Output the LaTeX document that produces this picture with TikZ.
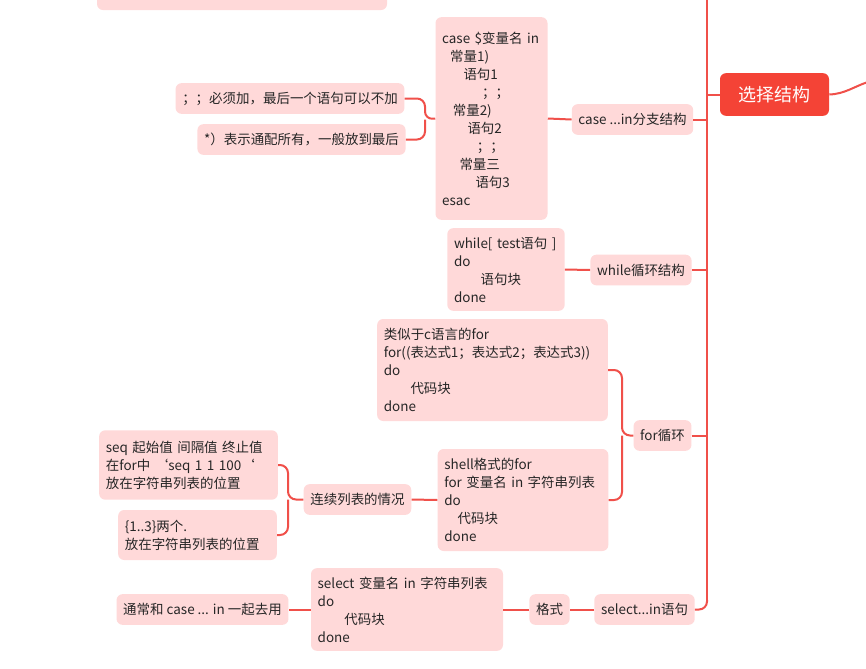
\documentclass[tikz,border=0pt]{standalone}
\usepackage{fontspec}
\setmainfont{Noto Sans CJK SC}
\begin{document}
\begin{tikzpicture}[x=0.75pt,y=-0.75pt,
  bx/.style={fill=boxc,rounded corners=4.5pt,inner xsep=5pt,inner ysep=0pt,align=left,font=\fontsize{10.1}{13.5}\selectfont,text=black!85},
  ln/.style={draw=linec,line width=1.5pt,rounded corners=6pt}]
\definecolor{boxc}{HTML}{FFD9D9}
\definecolor{linec}{HTML}{F0504A}
\definecolor{mainc}{HTML}{F44336}
\useasboundingbox (0,0) rectangle (866,668);
\fill[white] (0,0) rectangle (866,668);
% trunk
\draw[ln] (707,-5) -- (707,600) coordinate (tb);
% top partial box
\node[bx,minimum width=217.5pt,minimum height=15pt] (top) at (242,0) {};
% main
\node[fill=mainc,rounded corners=4.5pt,text=white,minimum width=81.75pt,minimum height=32pt,font=\fontsize{13.5}{16}\selectfont] (main) at (774.5,94.5) {选择结构};
\draw[ln] (707,94.5) -- (main.west);
\draw[line width=1.5pt,draw=linec] (main.east) .. controls (845,94) and (855,86) .. (868,82);
% case
\node[bx,minimum width=81.75pt,minimum height=152pt,text width=74pt] (casebox) at (491.5,118.5) {case \$变量名 in\\\hspace*{6pt}常量1)\\\hspace*{16pt}语句1\\\hspace*{30pt}；；\\\hspace*{8pt}常量2)\\\hspace*{19pt}语句2\\\hspace*{26pt}；；\\\hspace*{13pt}常量三\\\hspace*{25pt}语句3\\esac};
\node[bx,minimum height=23pt] (caselab) at (632.5,119.5) {case ...in分支结构};
\node[bx,minimum height=23pt] (n1) at (290,98.5) {；；必须加，最后一个语句可以不加};
\node[bx,minimum height=23pt] (n2) at (301.5,139.5) {*）表示通配所有，一般放到最后};
\draw[ln] (caselab.east) -- (707,119.5);
\draw[ln] (caselab.west) -- (casebox.east);
\draw[ln] (casebox.west) -- (425,119.5) |- (n1.east);
\draw[ln] (425,119.5) |- (n2.east);
% while
\node[bx,minimum width=85.5pt,minimum height=62pt,text width=78pt] (wbox) at (506,269.5) {while[ test语句 ]\\do\\\hspace*{20pt}语句块\\done};
\node[bx,minimum height=23pt] (wlab) at (641,270) {while循环结构};
\draw[ln] (wlab.east) -- (707,270);
\draw[ln] (wlab.west) -- (wbox.east);
% for
\node[bx,minimum height=23pt] (flab) at (662.5,435.5) {for循环};
\draw[ln] (flab.east) -- (707,435.5);
\node[bx,minimum width=170pt,minimum height=76.5pt,text width=163pt] (f1) at (492.5,370) {类似于c语言的for\\for((表达式1；表达式2；表达式3))\\do\\\hspace*{20pt}代码块\\done};
\node[bx,minimum width=124.5pt,minimum height=76.5pt,text width=118pt] (f2) at (523,500) {shell格式的for\\for 变量名 in 字符串列表\\do\\\hspace*{10pt}代码块\\done};
\draw[ln] (flab.west) -- (622,435.5) |- (f1.east);
\draw[ln] (622,435.5) |- (f2.east);
\node[bx,minimum height=23pt] (lx) at (357.5,499.5) {连续列表的情况};
\draw[ln] (f2.west) -- (lx.east);
\node[bx,minimum width=131pt,minimum height=52pt,text width=124pt] (s1) at (188.5,465) {seq 起始值 间隔值 终止值\\在for中 `seq 1 1 100`\\放在字符串列表的位置};
\node[bx,minimum width=116pt,minimum height=37.5pt,text width=109pt] (s2) at (197.5,535) {\{1..3\}两个.\\放在字符串列表的位置};
\draw[ln] (lx.west) -- (288,499.5) |- (s1.east);
\draw[ln] (288,499.5) |- (s2.east);
% select
\node[bx,minimum height=23pt] (slab) at (644.5,609.5) {select...in语句};
\draw[ln] (slab.east) -| (tb);
\node[bx,minimum height=23pt] (fmt) at (549.5,609.5) {格式};
\draw[ln] (slab.west) -- (fmt.east);
\node[bx,minimum width=141pt,minimum height=62pt,text width=134pt] (sbox) at (407,609.5) {select 变量名 in 字符串列表\\do\\\hspace*{20pt}代码块\\done};
\draw[ln] (fmt.west) -- (sbox.east);
\node[bx,minimum height=23pt] (tc) at (202.5,609.5) {通常和 case ... in 一起去用};
\draw[ln] (sbox.west) -- (tc.east);
\end{tikzpicture}
\end{document}
